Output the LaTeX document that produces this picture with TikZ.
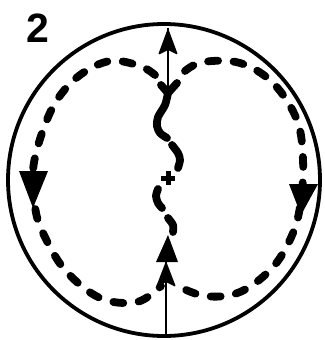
\documentclass[tikz,border=0pt]{standalone}
\usepackage{fontspec}
\newfontfamily\digitfont{Liberation Sans}
\usetikzlibrary{arrows.meta}

\tikzset{
  rim/.style={line width=3.8pt},
  flowline/.style={line width=7.8pt, line cap=round, dash pattern=on 10pt off 15.5pt},
  stroke/.style={line width=7.8pt, line cap=round, line join=round},
  thinline/.style={line width=1.4pt},
  dirhead/.style={fill=black},
}

\begin{document}
\begin{tikzpicture}[x=1pt,y=-1pt]
\useasboundingbox (0,0) rectangle (324,340);

\coordinate (centre) at (164,180);
\draw[rim] (centre) circle[radius=156];

\node[anchor=base west, inner sep=0pt, font=\digitfont\bfseries\fontsize{41}{41}\selectfont] (label) at (26,42) {2};

% junctions
\coordinate (topj) at (168,93);
\coordinate (botj) at (166,338);
\coordinate (toptip) at (168,28);
\coordinate (bottip) at (166,261);
\coordinate (topL) at (155,75);
\coordinate (topR) at (185,71);
\coordinate (botL) at (161,286);
\coordinate (botR) at (173,284);

% the two loops
\draw[flowline] plot[smooth, tension=0.6] coordinates {(topL) (140,66) (110,61) (80,75) (57,100) (42,133) (33,170) (35,207) (43,233) (65,270) (100,298) (137,302) (botL)};
\draw[flowline] plot[smooth, tension=0.6] coordinates {(topR) (203,62) (240,63) (273,83) (297,120) (303,160) (301,200) (293,233) (273,267) (240,292) (205,296) (botR)};

% middle
\draw[stroke] (161,85) -- (topj) -- (177,83);
\draw[stroke] plot[smooth] coordinates {(topj) (165,105) (158,117) (157,126) (160,133) (167,138)};
\draw[stroke] plot[smooth] coordinates {(172,145) (178,153) (180,160) (178,168)};
\draw[stroke] plot[smooth] coordinates {(158,189) (156,196) (158,203) (162,208)};
\draw[stroke] plot[smooth] coordinates {(168,218) (173,225) (173,232)};
\draw[line width=5pt] (161,178) -- (175,178) (168,171) -- (168,185);

% direction heads
\fill[dirhead] (19,171) -- (48,171) -- (33,208) -- cycle;
\fill[dirhead] (289,184) -- (318,184) -- (301,215) -- cycle;
\fill[dirhead] (156,262) -- (178,262) -- (168,235) -- cycle;

% in and out
\draw[thinline] (botj) -- (bottip);
\draw[thinline] (topj) -- (toptip);
\fill[dirhead, rounded corners=1.5pt] (toptip) -- ++(10,27) -- ++(-10,-5) -- ++(-10,5) -- cycle;
\fill[dirhead, rounded corners=1.5pt] (bottip) -- ++(10,26) -- ++(-10,-5) -- ++(-10,5) -- cycle;
\end{tikzpicture}
\end{document}
